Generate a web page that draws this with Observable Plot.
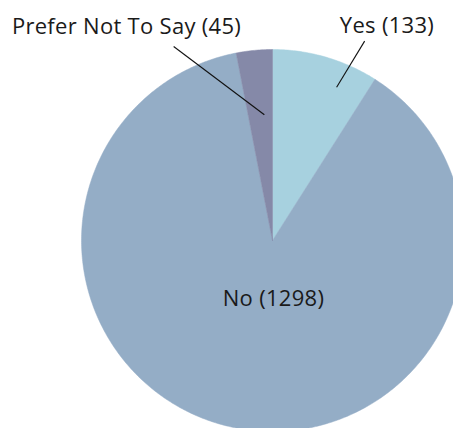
<!DOCTYPE html>
<html>
<head>
<meta charset="utf-8">
<script src="https://cdn.jsdelivr.net/npm/d3@7"></script>
<script src="https://cdn.jsdelivr.net/npm/@observablehq/plot@0.6"></script>
<style>
  html, body { margin: 0; padding: 0; background: #fff; }
  #chart { width: 453px; height: 428px; overflow: hidden; }
</style>
</head>
<body>
<div id="chart"></div>
<script>
// Data
const categories = ["Yes", "No", "Prefer Not To Say"];
const counts = [133, 1298, 45];
const colors = ["#a7d1df", "#94adc6", "#8589a8"];

// Label layout (annotation styling): angle (deg from top, clockwise) and radius (fraction) for leader ends
const labelLayout = [
  {inner: [22.7, 0.87], outer: [24.8, 1.15], text: [386.5, 25]},
  {inner: null, outer: null, text: [273, 298]},
  {inner: [-3.7, 0.66], outer: [-27, 1.14], text: [126, 26]}
];

const W = 453, H = 428, cx = 272, cy = 240, R = 191;

const pie = d3.pie().sort(null).value(d => d.count)(
  categories.map((c, i) => ({key: c, count: counts[i]}))
);

// polygon points for each slice in unit-circle coordinates
const slicePts = [];
for (const s of pie) {
  const n = Math.max(2, Math.ceil((s.endAngle - s.startAngle) / 0.01));
  slicePts.push({key: s.data.key, x: 0, y: 0});
  for (let k = 0; k <= n; k++) {
    const a = s.startAngle + (s.endAngle - s.startAngle) * k / n;
    slicePts.push({key: s.data.key, x: Math.sin(a), y: Math.cos(a)});
  }
  slicePts.push({key: s.data.key, x: 0, y: 0});
}

const pol = (deg, r) => ({x: r * Math.sin(deg * Math.PI / 180), y: r * Math.cos(deg * Math.PI / 180)});
const leaders = [];
const labels = [];
pie.forEach((s, i) => {
  const L = labelLayout[i];
  const text = `${s.data.key} (${s.data.count})`;
  labels.push({text, x: (L.text[0] - cx) / R, y: (cy - L.text[1]) / R});
  if (L.inner) {
    const a = pol(...L.inner), b = pol(...L.outer);
    leaders.push({x1: a.x, y1: a.y, x2: b.x, y2: b.y});
  }
});

const chart = Plot.plot({
  width: W,
  height: H,
  margin: 0,
  style: {background: "#fff", fontFamily: "'Open Sans', sans-serif", letterSpacing: "0.3px"},
  x: {domain: [-cx / R, (W - cx) / R], range: [0, W], axis: null},
  y: {domain: [(cy - H) / R, cy / R], range: [H, 0], axis: null},
  color: {domain: categories, range: colors},
  marks: [
    Plot.line(slicePts, {x: "x", y: "y", z: "key", fill: "key", stroke: "key", strokeWidth: 0.5, curve: "linear"}),
    Plot.link(leaders, {x1: "x1", y1: "y1", x2: "x2", y2: "y2", stroke: "#111", strokeWidth: 1.1}),
    Plot.text(labels, {x: "x", y: "y", text: "text", fontSize: 22, fill: "#1a1a1a", textAnchor: "middle"})
  ]
});
document.getElementById("chart").appendChild(chart);
</script>
</body>
</html>
